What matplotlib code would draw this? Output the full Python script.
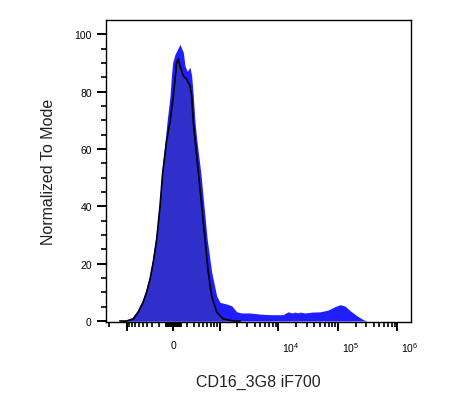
import numpy as np
import matplotlib
matplotlib.use('Agg')
import matplotlib.pyplot as plt
from matplotlib.ticker import FixedLocator, FixedFormatter
from matplotlib.transforms import ScaledTranslation

plt.rcParams['font.family'] = ['Liberation Sans', 'DejaVu Sans']
plt.rcParams['mathtext.default'] = 'regular'

# CD16 stained sample (blue) - x in fluorescence units, y in % of mode
stain_x = [-1350, -1064, -795, -642, -513, -422, -357, -299, -240, -189,
           -149, -107, -80, -40, -17, -4, 26, 93, 139, 164, 198, 240, 268,
           295, 326, 357, 439, 513, 592, 720, 890, 1020, 1337, 1632, 1983,
           2414, 3340, 4920, 7260, 12000, 14560, 17000, 19100, 21450, 23150,
           28100, 36860, 50350, 68540, 89860, 109100, 132400, 160700, 210700,
           265800, 310300]
stain_y = [0, 0.2, 1.2, 3.5, 7.0, 10.8, 15.3, 21.6, 29.6, 40.8,
           52.3, 62.4, 69.3, 78.4, 86.8, 90.2, 93.0, 96.5, 93.7, 88.9, 87.1, 88.5, 85.4,
           78.4, 69.3, 63.4, 51.9, 40.1, 28.6, 17.1, 8.7, 6.5, 5.9, 5.3, 3.2,
           2.8, 2.8, 2.4, 2.2, 2.2, 3.2, 2.8, 3.1, 2.8, 3.1,
           2.8, 3.1, 3.2, 3.8, 5.0, 5.7, 5.2, 3.6, 1.8,
           0.5, 0]

# unstained / control sample (black outline)
ctrl_x = [-1300, -990, -750, -608, -484, -411, -344, -285, -229, -178,
          -139, -86, -40, 4, 49, 70, 93, 139, 189, 240, 268, 295, 326,
          389, 461, 536, 619, 720, 890, 1166, 1738, 2261]
ctrl_y = [0, 0, 0.7, 3.1, 6.6, 10.1, 14.6, 20.6, 28.6, 40.1,
          51.9, 62.7, 69.3, 78.5, 90.1, 91.5, 89.0, 85.5, 84.3, 82.0, 78.5, 69.3, 63.4,
          51.9, 40.1, 28.6, 17.1, 8.7, 3.1, 0.7, 0, 0]

major_ticks = [-1000, 0, 1e3, 1e4, 1e5, 1e6]
major_labels = ['', '0', '', '$10^{4}$', '$10^{5}$', '$10^{6}$']

W = 340.0


def fwd(x):
    return np.arcsinh(np.asarray(x) / W)


def inv(u):
    return W * np.sinh(np.asarray(u))


minor = [-s * m for s in (10, 100) for m in range(1, 10)]
minor += [s * m for s in (10, 100) for m in range(1, 10)]
minor += [s * m for s in (1e3, 1e4, 1e5) for m in range(2, 10)]
minor += [-2000]

fig = plt.figure(figsize=(4.51, 4.06), dpi=100)
ax = fig.add_axes([106 / 451, 1 - 323 / 406, 305 / 451, 302 / 406])
ax.set_xscale('function', functions=(fwd, inv))

ax.fill_between(stain_x, stain_y, 0, color='#1e1eff', lw=0, zorder=2)
ax.fill_between(ctrl_x, ctrl_y, 0, color='#2f2fcb', lw=0, zorder=3)
ax.plot(ctrl_x, ctrl_y, color='black', lw=1.2, zorder=4)

ax.set_xlim(-2261, 1.70e6)
ax.set_ylim(-0.35, 105)

ax.xaxis.set_major_locator(FixedLocator(major_ticks))
ax.xaxis.set_major_formatter(FixedFormatter(major_labels))
ax.xaxis.set_minor_locator(FixedLocator(minor))
ax.set_yticks([0, 20, 40, 60, 80, 100])
ax.set_yticks(np.arange(0, 101, 5), minor=True)

for s in ax.spines.values():
    s.set_linewidth(1.0)
ax.tick_params(which='major', length=6.2, width=1.4, direction='out')
ax.tick_params(which='minor', length=3.4, width=1.2, direction='out')
ax.tick_params(axis='x', which='major', pad=7, labelsize=7.5)
ax.tick_params(axis='y', which='major', pad=4, labelsize=7.5)

# power labels sit just right of their tick, as in FlowJo
shift = ScaledTranslation(3 / 72, 0, fig.dpi_scale_trans)
for lbl in ax.get_xticklabels():
    if lbl.get_text().startswith('$'):
        lbl.set_horizontalalignment('left')
        lbl.set_transform(lbl.get_transform() + shift)

ax.set_xlabel('CD16_3G8 iF700', fontsize=11.5, labelpad=14, color='#222222')
ax.set_ylabel('Normalized To Mode', fontsize=11.5, labelpad=13, color='#222222')

fig.savefig('out.png', dpi=100)
